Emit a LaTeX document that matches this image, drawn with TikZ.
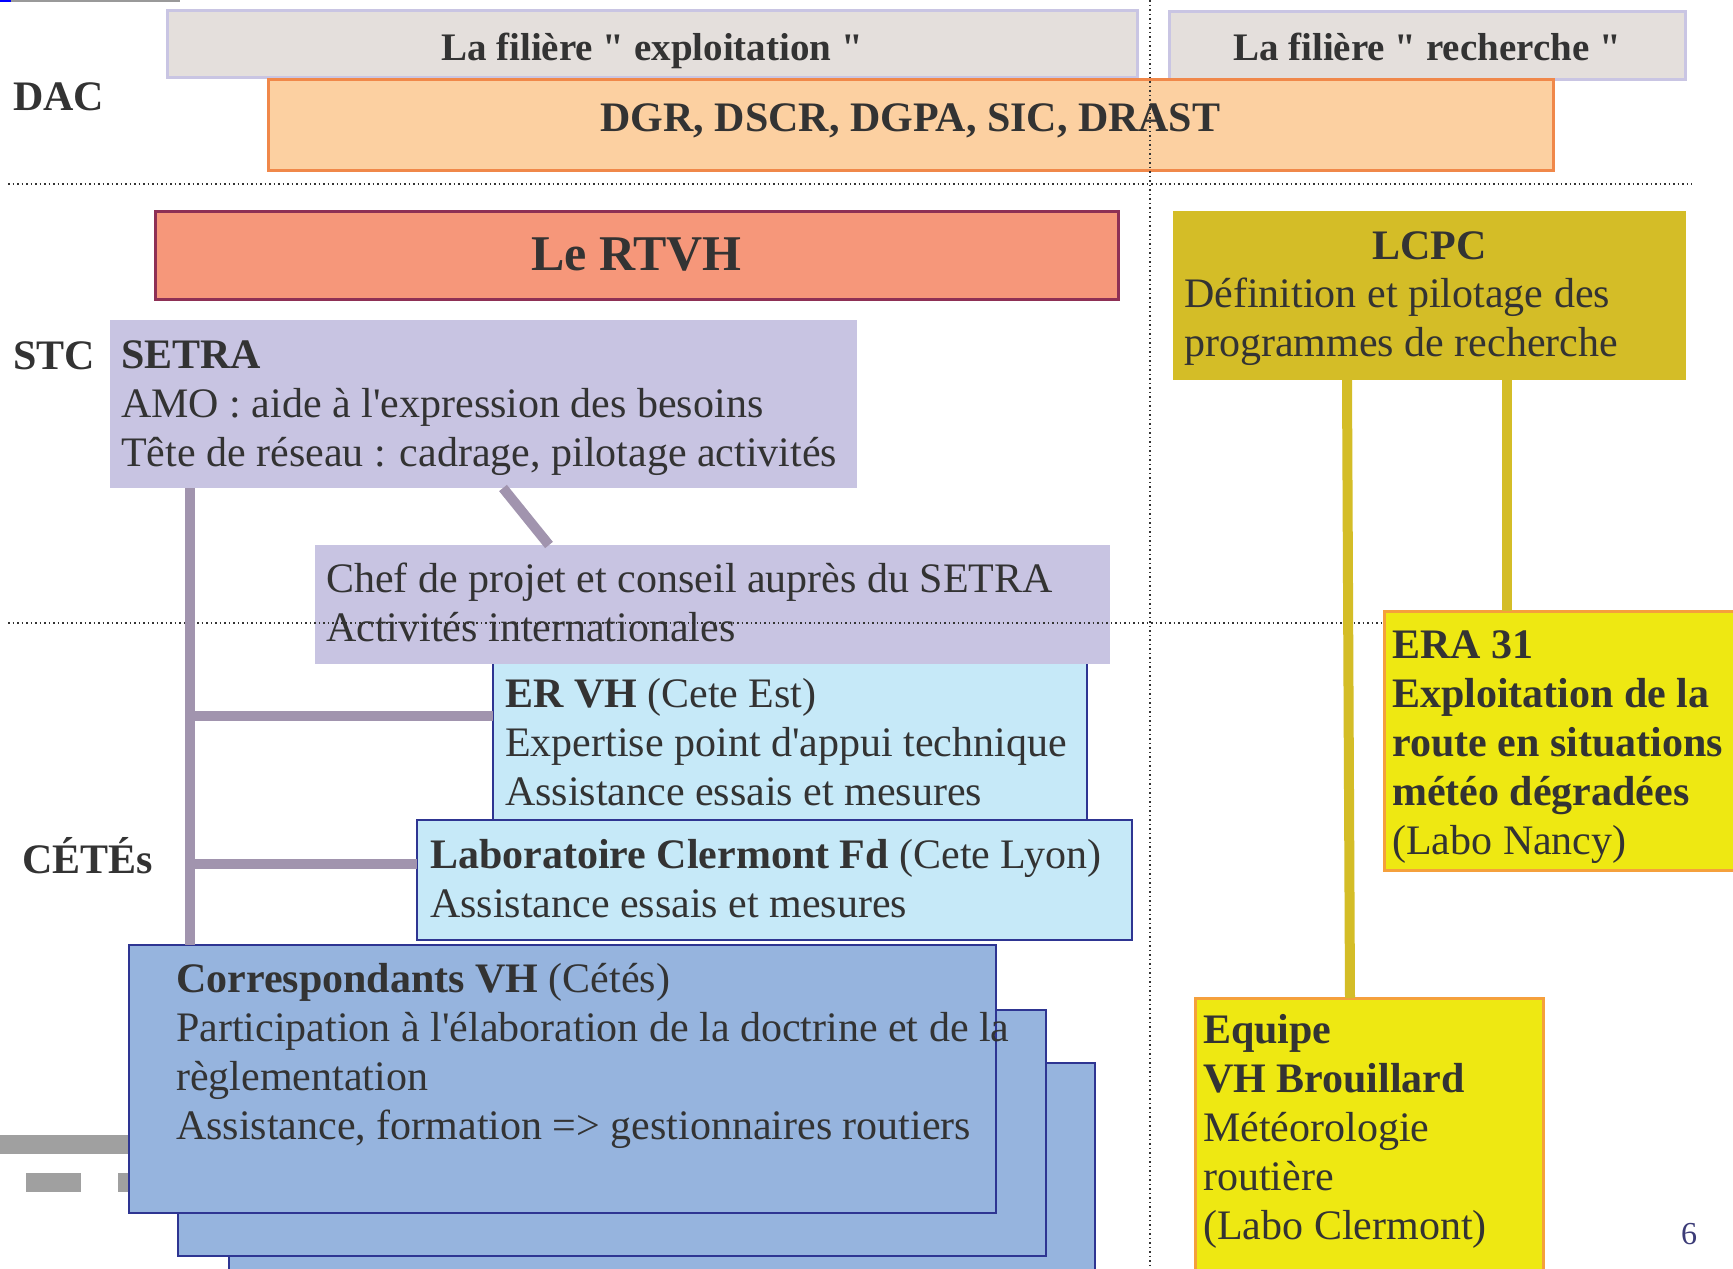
\documentclass[tikz,border=0pt]{standalone}
\usepackage{fontspec}
\setmainfont{Liberation Serif}[Ligatures=TeXOff]

\definecolor{ink}{HTML}{333333}
\definecolor{filgray}{HTML}{E4DFDC}
\definecolor{fillav}{HTML}{C9C5E3}
\definecolor{dacor}{HTML}{FCD0A1}
\definecolor{dacline}{HTML}{F0884A}
\definecolor{rtvh}{HTML}{F6977A}
\definecolor{rtvhline}{HTML}{8E3055}
\definecolor{stc}{HTML}{C8C4E2}
\definecolor{linkc}{HTML}{A194AE}
\definecolor{cete}{HTML}{C6E9F8}
\definecolor{ceteline}{HTML}{2E3592}
\definecolor{corr}{HTML}{96B4DE}
\definecolor{lcpc}{HTML}{D4BD27}
\definecolor{labo}{HTML}{EEE812}
\definecolor{laboline}{HTML}{F5A03C}
\definecolor{barc}{HTML}{A0A0A0}
\definecolor{pagec}{HTML}{3C3C78}

\tikzset{
  box/.style={anchor=north west, inner sep=0pt, outer sep=0pt},
  filbox/.style={box, draw=fillav, line width=3pt, fill=filgray},
  ctbox/.style={box, draw=ceteline, line width=2.5pt, fill=cete},
  corrbox/.style={box, draw=ceteline, line width=2.5pt, fill=corr},
  labbox/.style={box, draw=laboline, line width=3pt, fill=labo},
  txt/.style={anchor=north west, inner sep=0pt, align=left, text=ink,
    font=\fontsize{42}{49}\selectfont},
  head/.style={anchor=base, inner sep=0pt, text=ink, font=\fontsize{42}{49}\selectfont\bfseries},
  level/.style={head, anchor=base west},
  link/.style={line width=10pt, draw=linkc},
  ylink/.style={line width=10pt, draw=lcpc},
  sep/.style={line width=1.5pt, draw=ink, dash pattern=on 1.5pt off 3pt},
}

\begin{document}
\begin{tikzpicture}[x=1pt,y=-1pt]
  \useasboundingbox (0,0) rectangle (1733,1269);
  \clip (0,0) rectangle (1733,1269);
  \fill[white] (0,0) rectangle (1733,1269);
  \draw[line width=1.5pt, black!40] (0,0.75) -- (180,0.75);
  \draw[line width=1.5pt, blue] (0,0.75) -- (11,0.75);

  % DAC
  \node[filbox, minimum width=970pt, minimum height=67pt] (explo) at (167,10) {};
  \node[filbox, minimum width=516pt, minimum height=68pt] (rech) at (1169,11) {};
  \node[box, draw=dacline, line width=3pt, fill=dacor, minimum width=1285pt, minimum height=91pt] (dac) at (268,79) {};
  \node[head, font=\fontsize{39}{47}\selectfont\bfseries] (explo-t) at (explo.north |- 0,60) {La filière " exploitation "};
  \node[head, font=\fontsize{39}{47}\selectfont\bfseries] (rech-t) at (rech.north |- 0,60) {La filière " recherche "};
  \node[head] (dac-t) at (dac.north |- 0,131) {DGR, DSCR, DGPA, SIC, DRAST};
  \draw[sep] (8,184) -- (1692,184);
  \draw[sep] (1150,0) -- (1150,1269);

  \node[level] (dac-l) at (13,110) {DAC};
  \node[level] (stc-l) at (13,369) {STC};
  \node[level] (cete-l) at (22,873) {CÉTÉs};

  % STC
  \node[box, draw=rtvhline, line width=3pt, fill=rtvh, minimum width=963pt, minimum height=88pt] (rtvh) at (155,211) {};
  \node[head, font=\fontsize{50}{60}\selectfont\bfseries] (rtvh-t) at (rtvh.north |- 0,270) {Le RTVH};
  \node[box, fill=stc, minimum width=747pt, minimum height=168pt] (setra) at (110,320) {};
  \node[txt] (setra-t) at ([shift={(11,14)}]setra.north west) {\strut\textbf{SETRA}\\AMO : aide à l'expression des besoins\\Tête de réseau : cadrage, pilotage activités};

  % CETEs
  \node[ctbox, minimum width=594pt, minimum height=160pt] (ervh) at (493,660) {};
  \node[txt] (ervh-t) at ([shift={(12,13)}]ervh.north west) {\strut\textbf{ER VH} (Cete Est)\\Expertise point d'appui technique\\Assistance essais et mesures};
  \node[box, fill=stc, minimum width=795pt, minimum height=119pt] (chef) at (315,545) {};
  \node[txt] (chef-t) at ([shift={(11,13)}]chef.north west) {\strut Chef de projet et conseil auprès du SETRA\\Activités internationales};
  \draw[sep] (8,623) -- (1733,623);

  \node[ctbox, minimum width=715pt, minimum height=120pt] (lab) at (417,820) {};
  \node[txt] (lab-t) at ([shift={(13,14)}]lab.north west) {\strut\textbf{Laboratoire Clermont Fd} (Cete Lyon)\\Assistance essais et mesures};

  \fill[barc] (0,1135) rectangle (129,1154);
  \fill[barc] (26,1173) rectangle (81,1192);
  \fill[barc] (118,1173) rectangle (129,1192);
  \node[corrbox, minimum width=866pt, minimum height=250pt] (corr3) at (229,1063) {};
  \node[corrbox, minimum width=868pt, minimum height=246pt] (corr2) at (178,1010) {};
  \node[corrbox, minimum width=867pt, minimum height=268pt] (corr1) at (129,945) {};
  \node[txt] (corr1-t) at ([shift={(47,13)}]corr1.north west) {\strut\textbf{Correspondants VH} (Cétés)\\Participation à l'élaboration de la doctrine et de la\\règlementation\\Assistance, formation => gestionnaires routiers};

  \coordinate (trunk) at (190,0);
  \draw[link] ([xshift=393pt]setra.south west) -- ([xshift=234pt]chef.north west);
  \draw[link] (trunk |- setra.south) -- (trunk |- corr1.north);
  \draw[link] (trunk |- 0,716) -- (ervh.west |- 0,716);
  \draw[link] (trunk |- 0,864) -- (lab.west |- 0,864);

  % recherche
  \node[box, fill=lcpc, minimum width=513pt, minimum height=169pt] (lcpc) at (1173,211) {};
  \node[head] (lcpc-h) at (lcpc.north |- 0,259) {LCPC};
  \node[txt] (lcpc-t) at ([shift={(11,62)}]lcpc.north west) {\strut Définition et pilotage des\\programmes de recherche};
  \node[labbox, minimum width=360pt, minimum height=259pt] (era) at (1384,611) {};
  \node[txt] (era-t) at ([shift={(8,13)}]era.north west) {\strut\textbf{ERA 31}\\\textbf{Exploitation de la}\\\textbf{route en situations}\\\textbf{météo dégradées}\\(Labo Nancy)};
  \node[labbox, minimum width=348pt, minimum height=290pt] (equipe) at (1195,998) {};
  \node[txt] (equipe-t) at ([shift={(8,11)}]equipe.north west) {\strut\textbf{Equipe}\\\textbf{VH Brouillard}\\Météorologie\\routière\\(Labo Clermont)};
  \draw[ylink] ([xshift=174pt]lcpc.south west) -- ([xshift=155pt]equipe.north west);
  \draw[ylink] ([xshift=334pt]lcpc.south west) -- ([xshift=123pt]era.north west);

  \node[anchor=base, inner sep=0pt, text=pagec, font=\fontsize{32}{38}\selectfont] (page) at (1689,1244) {6};
\end{tikzpicture}
\end{document}
